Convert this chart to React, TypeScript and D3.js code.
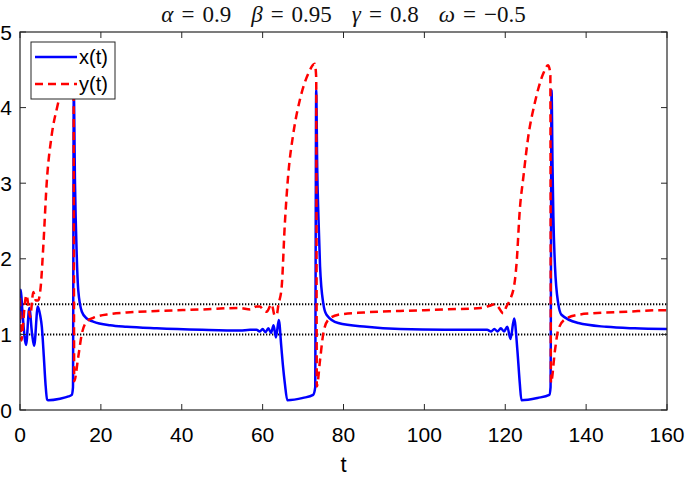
import React from 'react'
import * as d3 from 'd3'

// x(t) samples (blue, solid)
const tX = [
  0, 0.2, 0.6, 1.5, 2.3, 3.0, 3.5, 4.4, 5.0, 5.4, 5.9, 6.3, 6.7, 7.0, 9.9, 12.0, 12.8, 13.1,
  13.3, 13.6, 14.0, 14.4, 15.3, 16.5, 18.1, 22.3, 26.4, 33.8, 45, 54.4,
  56.9, 58.5, 59.3, 60.0, 60.7, 61.4, 62.1, 62.7, 63.3, 64.0, 64.6, 65.0, 65.5, 66.1, 70, 72.5, 73.0,
  73.25, 73.5, 73.8, 74.2, 75.0, 75.8, 78.7, 85.7, 94, 105, 114,
  115.5, 116.5, 117.3, 118.1, 118.9, 119.7, 120.5, 121.3, 122.2, 123.0, 123.6, 124.0, 128, 130.9, 131.2,
  131.45, 131.7, 131.9, 132.3, 133.1, 133.9, 138.1, 145, 152, 160,
]
const valX = [
  1.15, 1.59, 1.3, 0.86, 1.35, 1.0, 0.85, 1.37, 1.25, 1.1, 0.7, 0.35, 0.14, 0.13, 0.15, 0.18, 0.2, 0.3,
  4.22, 3.0, 2.1, 1.59, 1.3, 1.21, 1.17, 1.12, 1.1, 1.08, 1.06, 1.05,
  1.06, 1.06, 1.04, 1.07, 1.03, 1.08, 1.02, 1.12, 0.96, 1.19, 0.85, 0.6, 0.35, 0.13, 0.16, 0.2, 0.3,
  4.23, 3.2, 2.56, 1.9, 1.41, 1.26, 1.15, 1.1, 1.07, 1.06, 1.06,
  1.06, 1.04, 1.07, 1.04, 1.08, 1.04, 1.1, 0.94, 1.21, 0.79, 0.35, 0.13, 0.16, 0.2, 0.3,
  4.23, 3.2, 2.56, 1.9, 1.41, 1.26, 1.15, 1.1, 1.08, 1.07,
]

// y(t) samples (red, dashed)
const tY = [
  0, 0.35, 0.8, 1.2, 1.6, 2.1, 2.5, 3.3, 3.9, 4.5, 5.1, 5.8, 6.6, 7.8, 9.3, 11.3, 12.9, 13.25,
  13.4, 14.4, 15.3, 16.5, 18.1, 22.3, 26.4, 33.8, 45, 54.4,
  56.9, 58.5, 59.3, 60.2, 61.0, 62.2, 63.0, 63.5, 63.9, 64.7, 65.5, 66.3, 67.6, 69.2, 71.3, 72.9, 73.25,
  73.4, 74.2, 75.0, 76.2, 78.7, 85, 94, 105, 114,
  116.2, 117.5, 118.3, 119.5, 120.3, 121.2, 122.4, 122.8, 123.6, 124.5, 125.7, 127.3, 129.4, 130.6, 131.15,
  131.3, 132.3, 133.1, 134.8, 138.1, 141.8, 150, 158.3, 160,
]
const valY = [
  1.48, 0.92, 1.15, 1.41, 1.52, 1.37, 1.23, 1.56, 1.45, 1.45, 1.62, 2.2, 3.0, 3.62, 4.03, 4.42, 4.57, 4.4,
  0.38, 0.7, 1.01, 1.17, 1.22, 1.27, 1.29, 1.31, 1.33, 1.35,
  1.33, 1.37, 1.37, 1.32, 1.3, 1.4, 1.25, 1.26, 1.39, 1.62, 2.47, 3.09, 3.66, 4.1, 4.45, 4.58, 4.4,
  0.31, 0.66, 1.01, 1.19, 1.26, 1.29, 1.31, 1.33, 1.35,
  1.38, 1.4, 1.36, 1.28, 1.37, 1.46, 1.72, 1.94, 2.65, 3.09, 3.62, 4.06, 4.45, 4.56, 4.45,
  0.36, 0.79, 1.06, 1.2, 1.26, 1.28, 1.3, 1.32, 1.32,
]

const refLevels = [1.0, 1.4]
const xTicks = [0, 20, 40, 60, 80, 100, 120, 140, 160]
const yTicks = [0, 1, 2, 3, 4, 5]
const legendItems = ['x(t)', 'y(t)']
// title pieces: greek symbol, value
const params = [
  ['α', '0.9'],
  ['β', '0.95'],
  ['γ', '0.8'],
  ['ω', '−0.5'],
]

const W = 685
const H = 480
const m = {left: 20, right: 18, top: 32, bottom: 70}

export default function App() {
  const x = d3.scaleLinear().domain([0, 160]).range([m.left, W - m.right])
  const y = d3.scaleLinear().domain([0, 5]).range([H - m.bottom, m.top])

  const line = d3
    .line<[number, number]>()
    .x((d) => x(d[0]))
    .y((d) => y(d[1]))
    .curve(d3.curveMonotoneX)

  const xPath = line(tX.map((t, i) => [t, valX[i]]))
  const yPath = line(tY.map((t, i) => [t, valY[i]]))

  const x0 = x(0)
  const x1 = x(160)
  const y0 = y(0)
  const y1 = y(5)
  const tick = 6
  const font = '"Liberation Sans", Arial, sans-serif'
  const serif = '"Liberation Serif", "DejaVu Serif", serif'

  return (
    <svg
      width={W}
      height={H}
      style={{position: 'absolute', left: 0, top: 0, background: '#fff'}}
    >
      <defs>
        <clipPath id="plot">
          <rect x={x0} y={y1} width={x1 - x0} height={y0 - y1} />
        </clipPath>
      </defs>

      {/* title */}
      <text
        x={(x0 + x1) / 2}
        y={22}
        textAnchor="middle"
        fontFamily={serif}
        fontSize={23}
        fill="#111"
      >
        {params.map(([g, v], i) => (
          <React.Fragment key={g}>
            <tspan dx={i === 0 ? 0 : 20} fontStyle="italic">
              {g}
            </tspan>
            <tspan dx={8}>=</tspan>
            <tspan dx={8}>{v}</tspan>
          </React.Fragment>
        ))}
      </text>

      <g clipPath="url(#plot)">
        {refLevels.map((v) => (
          <line
            key={v}
            x1={x0}
            x2={x1}
            y1={y(v)}
            y2={y(v)}
            stroke="#000"
            strokeWidth={2}
            strokeDasharray="1.3,1.7"
          />
        ))}
        <path d={xPath || ''} fill="none" stroke="#0000ff" strokeWidth={2.5} strokeLinejoin="round" />
        <path
          d={yPath || ''}
          fill="none"
          stroke="#ff0000"
          strokeWidth={2.5}
          strokeDasharray="8,5"
        />
      </g>

      {/* axes box and ticks */}
      <rect x={x0} y={y1} width={x1 - x0} height={y0 - y1} fill="none" stroke="#262626" strokeWidth={1.2} />
      {xTicks.map((t) => (
        <g key={'x' + t}>
          <line x1={x(t)} x2={x(t)} y1={y0} y2={y0 - tick} stroke="#262626" />
          <line x1={x(t)} x2={x(t)} y1={y1} y2={y1 + tick} stroke="#262626" />
          <text x={x(t)} y={y0 + 32} textAnchor="middle" fontFamily={font} fontSize={21} fill="#000">
            {t}
          </text>
        </g>
      ))}
      {yTicks.map((t) => (
        <g key={'y' + t}>
          <line x1={x0} x2={x0 + tick} y1={y(t)} y2={y(t)} stroke="#262626" />
          <line x1={x1} x2={x1 - tick} y1={y(t)} y2={y(t)} stroke="#262626" />
          <text x={12} y={y(t) + 7.5} textAnchor="end" fontFamily={font} fontSize={21} fill="#000">
            {t}
          </text>
        </g>
      ))}
      <text x={(x0 + x1) / 2} y={472} textAnchor="middle" fontFamily={font} fontSize={22} fill="#000">
        t
      </text>

      {/* legend */}
      <g>
        <rect x={31} y={42} width={84} height={57} fill="#fff" stroke="#262626" strokeWidth={1} />
        {legendItems.map((name, i) => (
          <g key={name}>
            <line
              x1={35}
              x2={77}
              y1={57 + i * 27}
              y2={57 + i * 27}
              stroke={i === 0 ? '#0000ff' : '#ff0000'}
              strokeWidth={2.5}
              strokeDasharray={i === 0 ? undefined : '8,5'}
            />
            <text x={79} y={57 + i * 27 + 7} fontFamily={font} fontSize={20} fill="#000">
              {name}
            </text>
          </g>
        ))}
      </g>
    </svg>
  )
}
